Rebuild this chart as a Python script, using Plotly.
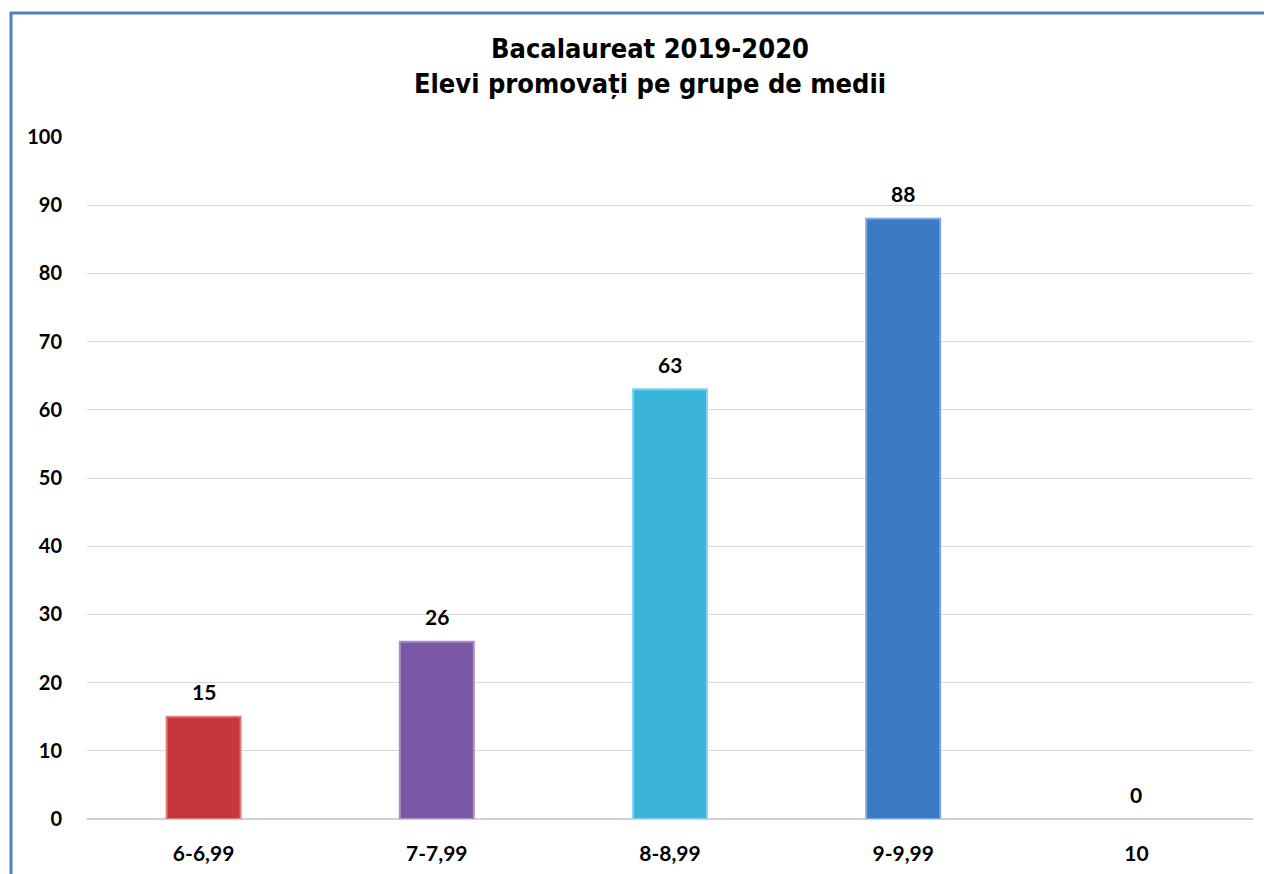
import plotly.graph_objects as go

categories = ["6-6,99", "7-7,99", "8-8,99", "9-9,99", "10"]
values = [15, 26, 63, 88, 0]
bar_colors = ["#C4373B", "#7B58A6", "#3AB5D9", "#3B7BC6", "#3B7BC6"]
edge_colors = ["#E07A7C", "#A88CC9", "#80D5EE", "#78A8E0", "#78A8E0"]
y_ticks = [0, 10, 20, 30, 40, 50, 60, 70, 80, 90, 100]

OFF = 8  # page body margin
W, H = 1272, 874
L, R, T, B = 87 - OFF, 19 + OFF, 137 - OFF, 55 + OFF
pw, ph = W - L - R, H - T - B

def px_x(p):
    return (p - OFF - L) / pw

def px_y(p):
    return (H - B - (p - OFF)) / ph

fig = go.Figure()
fig.add_trace(go.Bar(
    x=categories, y=values, width=0.317,
    marker=dict(color=bar_colors,
                line=dict(color=edge_colors, width=[2 if v > 0 else 0 for v in values])),
    hoverinfo="skip",
))

for i, v in enumerate(values):
    fig.add_annotation(x=i, y=v, xref="x", yref="y", text=f"<b>{v}</b>", showarrow=False,
                       yshift=25, font=dict(family="Lato", size=21, color="#000000"))

border = "#4F81BD"
fig.add_shape(type="line", xref="paper", yref="paper",
              x0=px_x(11), x1=px_x(11), y0=px_y(12), y1=px_y(H + 20),
              line=dict(color=border, width=3))
fig.add_shape(type="line", xref="paper", yref="paper",
              x0=px_x(10), x1=px_x(W + 20), y0=px_y(13), y1=px_y(13),
              line=dict(color=border, width=3))

fig.update_layout(
    width=W, height=H,
    margin=dict(l=L, r=R, t=T, b=B, autoexpand=False),
    paper_bgcolor="#FFFFFF", plot_bgcolor="#FFFFFF",
    showlegend=False,
    title=dict(
        text="<b>Bacalaureat 2019-2020<br>Elevi promovați pe grupe de medii</b>",
        x=(650 - OFF) / W, xanchor="center", xref="container",
        y=1 - (58 - OFF) / H, yanchor="top", yref="container",
        font=dict(family="DejaVu Sans Condensed, Liberation Sans, Arial", size=27, color="#000000"),
    ),
)
fig.update_yaxes(
    range=[0, 100], tickvals=y_ticks, ticktext=[f"<b>{t}</b>" for t in y_ticks],
    showgrid=True, gridcolor="#D9D9D9", gridwidth=1,
    zeroline=True, zerolinecolor="#D0D0D0", zerolinewidth=1.5,
    showline=False, ticks="", ticklabelstandoff=24, automargin=False,
    tickfont=dict(family="Lato", size=20, color="#000000"),
    fixedrange=True,
)
fig.update_xaxes(
    type="category", range=[-0.5, 4.5],
    categoryorder="array", categoryarray=categories,
    tickvals=categories, ticktext=[f"<b>{c}</b>" for c in categories],
    showgrid=False, showline=False, ticks="", ticklabelstandoff=20, automargin=False,
    tickfont=dict(family="Lato", size=21, color="#000000"),
    fixedrange=True,
)

fig.write_html("out.html")
